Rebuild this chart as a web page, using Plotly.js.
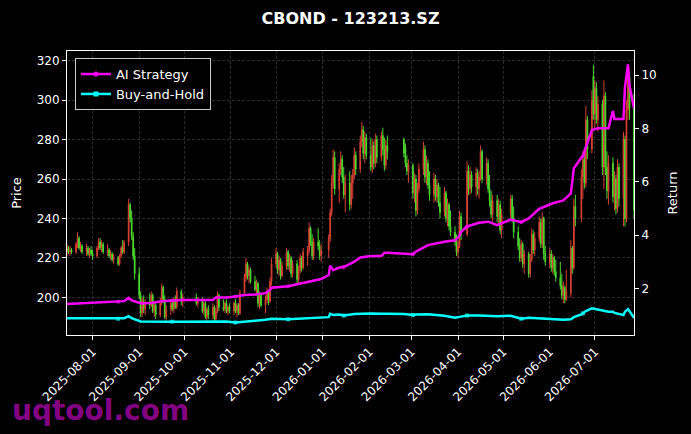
<!DOCTYPE html>
<html><head><meta charset="utf-8">
<script src="https://cdn.plot.ly/plotly-3.0.1.min.js"></script>
<style>html,body{margin:0;padding:0;background:#000;} #chart{width:691px;height:434px;}</style>
</head><body><div id="chart"></div>
<script>
// Trading calendar (weekdays between first and last day, minus exchange holidays)
const firstDay = '2025-07-15';
const lastDay = '2026-07-27';
const holidays = ['2025-10-01','2025-10-02','2025-10-03','2025-10-06','2025-10-07','2025-10-08',
  '2026-01-01','2026-01-02','2026-02-16','2026-02-17','2026-02-18','2026-02-19','2026-02-20','2026-02-23',
  '2026-04-06','2026-05-01','2026-05-04','2026-05-05','2026-06-19'];

// Daily OHLC
const openP = [
 223,225,223,224,223,227,230,225,226,223,225,222,224,
 222,221,225,228,225,227,223,224,221,222,219,220,217,221,225,223,228,247,240,231,221,
 212,201,192,198,194,197,196,201,193,196,191,198,205,199,190,194,197,194,199,195,203,198,
 200,197,199,193,197,190,194,191,195,189,193,201,195,194,197,193,195,
 193,197,193,196,192,202,210,217,211,214,208,204,207,197,201,196,199,203,198,208,
 217,222,214,219,211,216,223,216,220,212,217,209,214,220,215,221,224,235,228,221,228,226,221,
 224,230,243,258,271,255,265,270,261,252,258,247,258,262,272,265,279,285,273,281,
 272,266,277,268,280,271,282,275,267,277,280,276,268,264,
 267,253,260,244,255,265,275,261,268,257,252,260,251,257,248,243,253,240,247,236,233,228,
 223,226,241,232,264,255,262,256,263,255,261,274,260,268,255,249,242,249,241,247,234,
 242,250,240,233,226,220,227,217,222,212,219,232,224,230,238,227,240,222,
 218,222,215,220,213,210,206,201,205,199,202,225,215,246,240,261,270,258,290,275,312,
 293,306,290,298,266,302,266,254,268,251,260,245,266,250,280,240,295,312,300];
const highP = [
 227,226,226,225,228,233,231,228,227,227,226,225,226,
 224,226,230,230,229,228,227,225,224,223,222,221,222,226,229,229,250,248,244,233,225,
 215,203,200,201,199,202,203,202,198,197,200,207,206,201,196,199,199,200,201,205,204,202,
 202,200,200,198,198,195,196,197,196,195,203,202,199,198,199,196,197,
 198,199,197,197,204,212,220,218,216,215,211,209,208,203,202,201,205,204,210,220,
 225,223,221,220,218,225,224,222,221,219,219,216,222,221,225,226,238,236,232,230,235,229,227,
 232,245,262,275,274,268,274,272,266,262,264,262,265,276,274,282,289,287,284,283,
 281,280,279,283,282,284,286,281,280,282,281,278,272,270,
 268,263,262,258,268,279,277,272,270,264,263,262,260,258,256,256,254,250,248,244,236,232,
 229,244,243,269,267,266,264,266,265,264,277,275,271,270,262,254,252,252,250,249,245,
 252,252,246,236,230,229,228,224,223,222,235,234,233,241,240,243,241,226,
 225,224,222,221,219,218,212,208,206,214,229,226,250,252,265,274,276,297,292,305,318,
 310,309,302,300,310,304,274,272,271,264,262,270,268,284,282,300,318,314,303];
const lowP = [
 221,222,221,222,222,225,224,223,222,221,221,220,221,
 219,220,224,224,223,222,221,220,219,218,217,216,216,220,222,222,226,238,229,219,209,
 199,190,190,192,191,194,195,192,190,189,190,196,197,189,188,191,193,192,194,194,196,195,
 196,195,192,191,189,188,189,189,188,188,192,193,193,192,192,191,192,
 191,192,190,191,191,201,208,209,207,207,203,201,195,194,195,192,197,196,197,206,
 215,212,211,209,210,214,214,213,210,210,207,207,212,213,214,216,222,226,219,219,224,219,218,
 220,228,241,255,252,248,262,258,250,243,244,245,250,260,262,263,276,270,268,270,
 264,263,265,266,268,269,272,264,265,270,271,266,262,258,
 250,248,241,242,253,262,258,257,255,249,248,249,248,246,240,241,238,236,234,231,226,221,
 220,225,229,231,252,252,253,251,252,250,259,258,257,253,246,240,238,238,237,232,230,
 240,238,230,224,218,218,215,212,210,210,218,222,221,228,225,225,219,216,
 215,213,212,211,208,204,199,197,197,198,200,212,214,236,238,250,255,256,270,273,290,
 286,288,284,262,255,262,250,247,248,244,242,243,246,236,236,238,290,290,240];
const closeP = [
 225,223,224,223,227,230,225,226,223,225,222,224,222,
 221,225,228,225,227,223,224,221,222,219,220,217,221,225,223,228,247,240,231,221,212,
 201,192,198,194,197,196,201,193,196,191,198,205,199,190,194,197,194,199,195,203,198,200,
 197,199,193,197,190,194,191,195,189,193,201,195,194,197,193,195,193,
 197,193,196,192,202,210,217,211,214,208,204,207,197,201,196,199,203,198,208,217,
 222,214,219,211,216,223,216,220,212,217,209,214,220,215,223,224,235,228,221,228,226,221,224,
 230,243,258,271,255,265,270,261,252,258,247,258,262,272,265,279,285,273,281,272,
 266,277,268,280,271,282,275,267,277,274,273,268,264,267,
 253,260,244,255,265,275,261,268,257,252,260,251,257,248,243,253,240,247,236,233,228,223,
 226,241,232,264,255,262,256,263,255,261,274,260,268,255,249,242,249,241,247,234,242,
 250,240,233,226,220,227,217,222,212,219,232,224,230,238,227,240,222,218,
 222,215,220,213,210,206,201,205,199,203,225,215,246,240,261,270,258,290,275,300,293,
 306,290,298,266,302,266,254,268,251,260,245,266,250,280,240,295,312,296,244];

// Strategy equity curves (right axis)
const lineDates = ['2025-07-15','2025-07-28','2025-08-11','2025-08-18','2025-08-22','2025-08-25','2025-08-27',
 '2025-09-02','2025-09-09','2025-09-16','2025-09-23','2025-09-30','2025-10-13','2025-10-20','2025-10-22',
 '2025-10-29','2025-11-04','2025-11-10','2025-11-17','2025-11-24','2025-11-27','2025-11-28','2025-12-09',
 '2025-12-16','2025-12-23','2025-12-31','2026-01-05','2026-01-06','2026-01-08','2026-01-12','2026-01-15',
 '2026-01-22','2026-01-26','2026-02-02','2026-02-09','2026-02-11','2026-02-13','2026-02-24','2026-03-02',
 '2026-03-04','2026-03-09','2026-03-12','2026-03-23','2026-03-30','2026-04-02','2026-04-03','2026-04-07',
 '2026-04-15','2026-04-21','2026-04-27','2026-05-06','2026-05-13','2026-05-18','2026-05-25','2026-06-03',
 '2026-06-10','2026-06-15','2026-06-17','2026-06-22','2026-06-23','2026-06-25','2026-06-29','2026-07-03',
 '2026-07-10','2026-07-13','2026-07-14','2026-07-20','2026-07-21','2026-07-23','2026-07-24','2026-07-27'];
const aiReturn = [1.41,1.45,1.48,1.50,1.52,1.64,1.55,
 1.44,1.45,1.52,1.54,1.56,1.56,1.56,1.66,
 1.66,1.69,1.75,1.77,1.82,1.94,2.02,2.08,
 2.16,2.26,2.35,2.50,2.85,2.68,2.78,2.80,
 3.00,3.16,3.21,3.21,3.33,3.33,3.31,3.28,
 3.38,3.55,3.62,3.75,3.80,3.98,4.12,4.32,
 4.46,4.50,4.37,4.58,4.48,4.62,4.98,5.19,
 5.30,5.56,6.50,6.90,6.95,7.30,7.94,8.00,
 8.00,8.65,8.35,8.35,9.55,10.40,9.60,8.75];
const bhReturn = [0.875,0.87,0.875,0.86,0.88,0.96,0.88,
 0.76,0.75,0.76,0.75,0.75,0.75,0.74,0.76,
 0.76,0.72,0.76,0.78,0.82,0.84,0.86,0.84,
 0.86,0.88,0.88,0.92,1.04,1.00,1.02,0.98,
 1.04,1.05,1.06,1.05,1.06,1.05,1.04,1.00,
 1.02,1.04,1.03,0.97,0.90,0.93,0.94,0.98,
 0.98,0.97,0.95,0.97,0.86,0.90,0.88,0.86,
 0.82,0.84,0.92,1.02,1.06,1.15,1.25,1.20,
 1.12,1.12,1.08,1.00,1.12,1.22,1.15,0.90];
const markDates = ['2025-08-18','2025-09-23','2025-11-04','2025-12-09','2026-01-15','2026-03-02','2026-04-07','2026-05-13','2026-06-23'];

function tradingDays() {
  const out = [];
  const d = new Date(firstDay + 'T00:00:00Z');
  const end = new Date(lastDay + 'T00:00:00Z');
  while (d <= end) {
    const s = d.toISOString().slice(0, 10);
    const wd = d.getUTCDay();
    if (wd !== 0 && wd !== 6 && holidays.indexOf(s) < 0) out.push(s);
    d.setUTCDate(d.getUTCDate() + 1);
  }
  return out;
}
const dates = tradingDays();
const n = Math.min(dates.length, openP.length);
const markSizes = lineDates.map(d => markDates.indexOf(d) >= 0 ? 4 : 0);

const traces = [
  {type: 'candlestick', x: dates.slice(0, n), open: openP.slice(0, n), high: highP.slice(0, n),
   low: lowP.slice(0, n), close: closeP.slice(0, n), xaxis: 'x', yaxis: 'y',
   increasing: {line: {color: '#ff4d3d', width: 1}, fillcolor: '#ff4d3d'},
   decreasing: {line: {color: '#5cff3a', width: 1}, fillcolor: '#5cff3a'},
   whiskerwidth: 0, opacity: 0.85, showlegend: false, hoverinfo: 'skip'},
  {type: 'scatter', mode: 'lines+markers', name: 'AI Strategy', x: lineDates, y: aiReturn, yaxis: 'y2',
   line: {color: '#ff00ff', width: 2.5}, showlegend: false, legendgroup: 'ai',
   marker: {symbol: 'circle', size: markSizes, color: '#ff00ff', line: {width: 0}}},
  {type: 'scatter', mode: 'lines+markers', name: 'Buy-and-Hold', x: lineDates, y: bhReturn, yaxis: 'y2',
   line: {color: '#00ffff', width: 2.5}, showlegend: false, legendgroup: 'bh',
   marker: {symbol: 'square', size: markSizes, color: '#00ffff', line: {width: 0}}},
  // legend entries (line with a small marker, as in the reference legend)
  {type: 'scatter', mode: 'lines+markers', name: 'AI Strategy', x: [null], y: [null], yaxis: 'y2',
   legendgroup: 'ai', line: {color: '#ff00ff', width: 2.5},
   marker: {symbol: 'circle', size: 5, color: '#ff00ff', line: {width: 0}}},
  {type: 'scatter', mode: 'lines+markers', name: 'Buy-and-Hold', x: [null], y: [null], yaxis: 'y2',
   legendgroup: 'bh', line: {color: '#00ffff', width: 2.5},
   marker: {symbol: 'square', size: 5, color: '#00ffff', line: {width: 0}}}
];

const axisCommon = {ticks: 'outside', ticklen: 4, tickcolor: '#ffffff', showline: true, linecolor: '#ffffff',
  linewidth: 1, zeroline: false, tickfont: {size: 12, color: '#ffffff'}};

const layout = {
  width: 691, height: 434,
  paper_bgcolor: '#000000', plot_bgcolor: '#000000',
  margin: {l: 67, r: 57, t: 51, b: 99},
  font: {family: 'DejaVu Sans, sans-serif', color: '#ffffff', size: 12},
  title: {text: '<b>CBOND - 123213.SZ</b>', font: {size: 16, color: '#ffffff'},
          x: 0.5, xref: 'paper', xanchor: 'center', y: 1 - 18 / 434, yref: 'container', yanchor: 'middle'},
  xaxis: Object.assign({}, axisCommon, {type: 'date', range: [firstDay, lastDay], rangeslider: {visible: false},
    tickformat: '%Y-%m-%d', dtick: 'M1', tick0: '2025-08-01', tickangle: -45, mirror: true,
    showgrid: true, gridcolor: '#3c3c3c', griddash: '3px,2px', gridwidth: 0.7}),
  yaxis: Object.assign({}, axisCommon, {range: [180.9, 324.9], dtick: 20, tick0: 200, mirror: true,
    showgrid: true, gridcolor: '#3c3c3c', griddash: '3px,2px', gridwidth: 0.7,
    title: {text: 'Price', font: {size: 13, color: '#ffffff'}, standoff: 12}}),
  yaxis2: Object.assign({}, axisCommon, {overlaying: 'y', side: 'right', range: [0.25, 10.9], dtick: 2, tick0: 2,
    showgrid: false, title: {text: 'Return', font: {size: 13, color: '#ffffff'}, standoff: 12}}),
  legend: {x: 0.014, y: 0.975, xanchor: 'left', yanchor: 'top', bgcolor: '#000000', bordercolor: '#cccccc',
    borderwidth: 1, font: {size: 13, color: '#ffffff'}, itemwidth: 30, tracegroupgap: 0},
  annotations: [{text: '<b>uqtool.com</b>', xref: 'paper', yref: 'paper', x: (10 - 67) / 567, y: (335 - 410) / 284,
    xanchor: 'left', yanchor: 'middle', showarrow: false, font: {size: 28, color: 'rgba(150,0,150,0.9)'}}]
};

Plotly.newPlot('chart', traces, layout, {staticPlot: true, displayModeBar: false});
</script>
</body></html>
